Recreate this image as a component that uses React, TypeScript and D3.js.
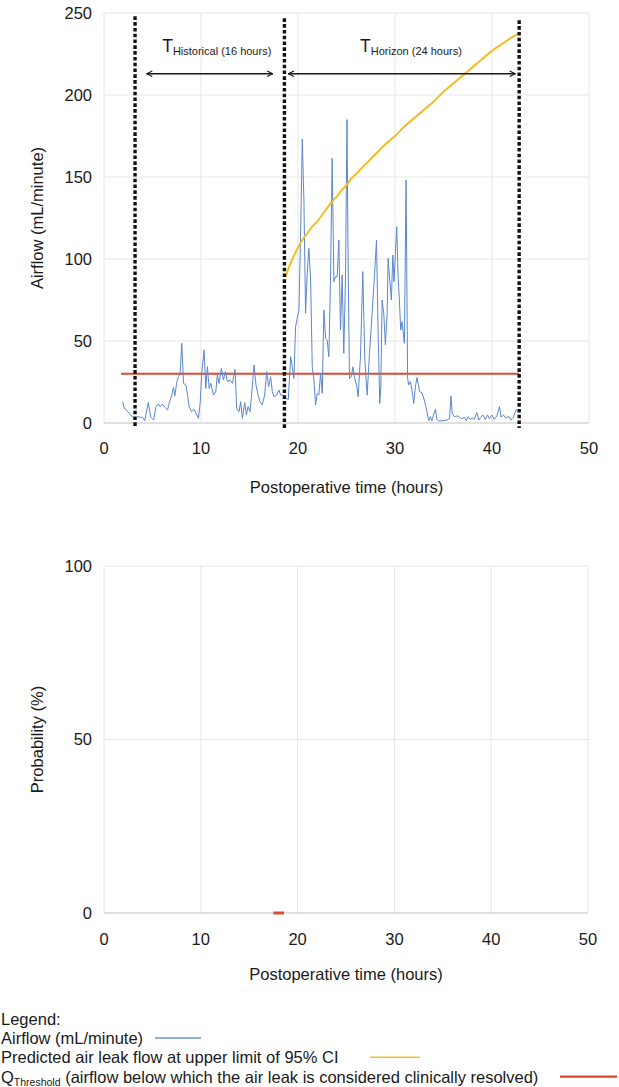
import React from "react";
import * as d3 from "d3";

// ---------- data ----------
const airflowHours = [
  1.92, 2.09, 2.26, 2.6, 2.95, 3.2, 3.46, 3.74, 3.98, 4.2, 4.56, 4.83, 5.11, 5.35, 5.59, 5.8, 6.04, 6.27, 6.55, 6.72,
  6.96, 7.17, 7.3, 7.51, 7.68, 7.85, 8.02, 8.2, 8.44, 8.61, 8.78, 9.02, 9.29, 9.57, 9.74, 9.91, 10.08, 10.32, 10.49, 10.66,
  10.84, 11.01, 11.28, 11.52, 11.69, 11.86, 12.1, 12.31, 12.52, 12.72, 13.0, 13.24, 13.51, 13.68, 13.92, 14.09, 14.27, 14.51, 14.68, 14.85,
  15.06, 15.3, 15.47, 15.67, 15.88, 16.08, 16.32, 16.56, 16.77, 16.97, 17.18, 17.35, 17.52, 17.8, 18.04, 18.21, 18.48, 18.72, 19.0, 19.24,
  19.41, 19.58, 19.75, 19.92, 20.1, 20.27, 20.44, 20.61, 20.78, 20.95, 21.12, 21.3, 21.47, 21.64, 21.81, 21.98, 22.15, 22.33, 22.5, 22.67,
  22.84, 23.01, 23.18, 23.35, 23.52, 23.7, 23.87, 24.04, 24.21, 24.38, 24.55, 24.72, 24.9, 25.05, 25.17, 25.31, 25.51, 25.65, 25.85, 26.06,
  26.2, 26.44, 26.68, 26.89, 27.13, 27.37, 27.64, 27.88, 28.09, 28.26, 28.43, 28.54, 28.67, 28.84, 29.01, 29.19, 29.29, 29.46, 29.63, 29.77,
  29.9, 30.04, 30.18, 30.32, 30.45, 30.59, 30.73, 30.83, 30.97, 31.14, 31.3, 31.41, 31.58, 31.76, 31.93, 32.1, 32.27, 32.54, 32.78, 33.02,
  33.3, 33.47, 33.64, 33.81, 33.98, 34.16, 34.33, 34.5, 34.84, 35.36, 35.63, 35.77, 35.9, 36.11, 36.39, 36.66, 36.9, 37.14, 37.35, 37.55,
  37.76, 37.96, 38.17, 38.44, 38.65, 38.85, 39.06, 39.3, 39.54, 39.74, 39.98, 40.22, 40.5, 40.77, 40.94, 41.18, 41.45, 41.69, 41.93, 42.2,
  42.48, 42.62,
];
const airflowValues = [
  13, 8.9, 8.3, 5.9, 3.5, 2.2, 3.9, 3.5, 3.5, 1.4, 12.4, 3.5, 1.8, 9.6, 11.6, 10, 11.6, 9.6, 7.9, 12,
  16.5, 21.7, 16.5, 25.2, 28.3, 30.3, 48.6, 24.2, 23.2, 17, 10, 6.9, 8.3, 4.9, 2.8, 12, 30.3, 44.5, 21.1, 34.3,
  21.1, 24.2, 17, 19.1, 29.3, 24.2, 33.3, 26.2, 31.3, 25.2, 26.2, 24.2, 32.7, 8.9, 6.9, 13, 2.8, 12.4, 4.9, 10,
  6.9, 23.2, 35.4, 23.2, 17, 13, 11, 17, 31.3, 22.2, 28.3, 19.1, 16.1, 17, 20.1, 17, 17, 15, 14.4, 40.4,
  34.3, 27.2, 58.7, 63.8, 68.9, 115.7, 173, 136, 66.9, 91.3, 106.5, 87.2, 34.3, 26.2, 11, 18.1, 17.1, 30.3, 18.1, 68.9,
  51.6, 50.6, 40.4, 87.2, 161.4, 86.2, 89.2, 89.2, 111.6, 56.7, 90.2, 42.5, 89.2, 185, 95.3, 27.2, 28.3, 34.3, 27.2, 22.2,
  16, 40.4, 92.3, 38.4, 17, 42.5, 66.9, 89.2, 111.6, 54.7, 12, 22.2, 75, 66.9, 47.6, 66.9, 100.4, 87.2, 75, 102.4,
  86.2, 103.5, 119.7, 89.2, 75, 56.7, 61.8, 55.7, 48.6, 148.2, 27.2, 23.2, 25.2, 20.1, 12, 22, 27.8, 19.1, 18.5, 14,
  6.9, 1.4, 3.9, 1.4, 4.9, 8.3, 2.2, 1.2, 1.4, 1.8, 2.8, 16.5, 5.9, 3.9, 4.3, 3.5, 2.6, 3.5, 1.4, 3.9,
  2.2, 3, 2.2, 6.3, 1.8, 3.5, 4.9, 2.2, 4.9, 2.6, 4.9, 2.2, 4.3, 10, 3.5, 4.9, 2.8, 4.3, 1.8, 3.5,
  7.9, 7.9,
];

const predictedHours = [18.72, 19, 19.5, 20, 20.5, 21, 21.5, 22, 22.5, 23, 23.5, 24, 24.5, 25, 25.5, 26, 26.5, 27, 27.5, 28, 29, 30, 31, 32, 33, 34, 35, 36, 37, 38, 39, 40, 41, 42, 42.7];
const predictedValues = [89, 94, 101, 107, 112, 116, 120, 123, 127, 131, 135, 138, 142, 145, 149, 152, 155, 158, 161, 164, 170, 175, 181, 186, 191, 196, 202, 207, 212, 217, 222, 227, 231, 235, 237.5];

const thresholdHours = [1.75, 42.8];
const thresholdValues = [30, 30];

const probabilityHours = [17.5, 18.6];
const probabilityValues = [0, 0];

const windowBoundaries = [3.2, 18.6, 42.8];

const xTicks = [0, 10, 20, 30, 40, 50];
const yTicksAirflow = [0, 50, 100, 150, 200, 250];
const yTicksProbability = [0, 50, 100];

const annotations = [
  { label: "T", sub: "Historical (16 hours)", textX: 6.0, from: 4.4, to: 17.4 },
  { label: "T", sub: "Horizon (24 hours)", textX: 26.4, from: 19.0, to: 42.4 },
];

const legendItems = [
  { main: "Airflow (mL/minute)", sub: "", rest: "", color: "#6E94D1", x1: 155, x2: 201 },
  { main: "Predicted air leak flow at upper limit of 95% CI", sub: "", rest: "", color: "#F1C232", x1: 370, x2: 420 },
  { main: "Q", sub: "Threshold", rest: " (airflow below which the air leak is considered clinically resolved)", color: "#E0442E", x1: 560, x2: 617 },
];

// ---------- styles ----------
const FONT = "'Liberation Sans', Arial, Helvetica, sans-serif";
const TEXT = "#1a1a1a";
const GRID = "#e6e6e6";
const AXIS = "#d6d6d6";
const BLUE = "#5B87CF";
const YELLOW = "#F2BE22";
const RED = "#DA4A35";
const FS = 16.5;

const W = 619;
const H = 1087;

const top = { left: 104, right: 589, top: 13, bottom: 423 };
const bot = { left: 104, right: 588, top: 566, bottom: 913 };

export default function App() {
  const x1 = d3.scaleLinear().domain([0, 50]).range([top.left, top.right]);
  const y1 = d3.scaleLinear().domain([0, 250]).range([top.bottom, top.top]);
  const x2 = d3.scaleLinear().domain([0, 50]).range([bot.left, bot.right]);
  const y2 = d3.scaleLinear().domain([0, 100]).range([bot.bottom, bot.top]);

  const airflowPts: [number, number][] = airflowHours.map((h, i) => [h, airflowValues[i]]);
  const predPts: [number, number][] = predictedHours.map((h, i) => [h, predictedValues[i]]);
  const thrPts: [number, number][] = thresholdHours.map((h, i) => [h, thresholdValues[i]]);
  const probPts: [number, number][] = probabilityHours.map((h, i) => [h, probabilityValues[i]]);

  const line1 = d3.line<[number, number]>().x((d) => x1(d[0])).y((d) => y1(d[1]));
  const predLine = d3.line<[number, number]>().x((d) => x1(d[0])).y((d) => y1(d[1])).curve(d3.curveMonotoneX);
  const line2 = d3.line<[number, number]>().x((d) => x2(d[0])).y((d) => y2(d[1]));

  const arrowY = y1(213);

  return (
    <svg width={W} height={H} style={{ position: "absolute", left: 0, top: 0, fontFamily: FONT }}>
      <defs>
        <marker id="ah" viewBox="0 0 10 10" refX="9" refY="5" markerWidth="7" markerHeight="7" orient="auto-start-reverse" markerUnits="userSpaceOnUse">
          <path d="M1,1 L9,5 L1,9" fill="none" stroke="#1a1a1a" strokeWidth="1.6" />
        </marker>
      </defs>
      <rect width={W} height={H} fill="#fff" />

      {/* ---------- top chart ---------- */}
      {xTicks.map((t) => (
        <line key={"tv" + t} x1={x1(t)} x2={x1(t)} y1={top.top} y2={top.bottom} stroke={GRID} strokeWidth={1} />
      ))}
      {yTicksAirflow.map((t) => (
        <line key={"th" + t} x1={top.left} x2={top.right} y1={y1(t)} y2={y1(t)} stroke={t === 0 ? AXIS : GRID} strokeWidth={t === 0 ? 1.5 : 1} />
      ))}
      {yTicksAirflow.map((t) => (
        <text key={"ty" + t} x={top.left - 12} y={y1(t)} dy="0.35em" textAnchor="end" fontSize={FS} fill={TEXT}>{t}</text>
      ))}
      {xTicks.map((t) => (
        <text key={"tx" + t} x={x1(t)} y={top.bottom + 25} dy="0.35em" textAnchor="middle" fontSize={FS} fill={TEXT}>{t}</text>
      ))}
      <text x={(top.left + top.right) / 2} y={top.bottom + 70} textAnchor="middle" fontSize={FS} fill={TEXT}>Postoperative time (hours)</text>
      <text transform={`translate(43, ${(top.top + top.bottom) / 2}) rotate(-90)`} textAnchor="middle" fontSize={FS} fill={TEXT}>Airflow (mL/minute)</text>

      <path d={line1(thrPts) || ""} fill="none" stroke={RED} strokeWidth={2} />
      <path d={line1(airflowPts) || ""} fill="none" stroke={BLUE} strokeWidth={1} strokeLinejoin="round" />
      <path d={predLine(predPts) || ""} fill="none" stroke={YELLOW} strokeWidth={2} />

      {windowBoundaries.map((b, i) => (
        <line key={"wb" + i} x1={x1(b)} x2={x1(b)} y1={y1(248) + i * 2} y2={top.bottom + 5} stroke="#111" strokeWidth={3.4} strokeDasharray="3.6 2.2" />
      ))}

      {annotations.map((a, i) => (
        <g key={"an" + i}>
          <text x={x1(a.textX)} y={y1(226)} fontSize={17.5} fill={TEXT}>
            {a.label}
            <tspan fontSize={11} dy={3}>{a.sub}</tspan>
          </text>
          <line x1={x1(a.from)} x2={x1(a.to)} y1={arrowY} y2={arrowY} stroke="#1a1a1a" strokeWidth={1.6} markerStart="url(#ah)" markerEnd="url(#ah)" />
        </g>
      ))}

      {/* ---------- bottom chart ---------- */}
      {xTicks.map((t) => (
        <line key={"bv" + t} x1={x2(t)} x2={x2(t)} y1={bot.top} y2={bot.bottom} stroke={GRID} strokeWidth={1} />
      ))}
      {yTicksProbability.map((t) => (
        <line key={"bh" + t} x1={bot.left} x2={bot.right} y1={y2(t)} y2={y2(t)} stroke={t === 0 ? AXIS : GRID} strokeWidth={t === 0 ? 1.5 : 1} />
      ))}
      {yTicksProbability.map((t) => (
        <text key={"by" + t} x={bot.left - 12} y={y2(t)} dy="0.35em" textAnchor="end" fontSize={FS} fill={TEXT}>{t}</text>
      ))}
      {xTicks.map((t) => (
        <text key={"bx" + t} x={x2(t)} y={bot.bottom + 26} dy="0.35em" textAnchor="middle" fontSize={FS} fill={TEXT}>{t}</text>
      ))}
      <text x={(bot.left + bot.right) / 2} y={bot.bottom + 67} textAnchor="middle" fontSize={FS} fill={TEXT}>Postoperative time (hours)</text>
      <text transform={`translate(43, ${(bot.top + bot.bottom) / 2}) rotate(-90)`} textAnchor="middle" fontSize={FS} fill={TEXT}>Probability (%)</text>
      <path d={line2(probPts) || ""} fill="none" stroke={RED} strokeWidth={3} />

      {/* ---------- legend ---------- */}
      <text x={1} y={1025} fontSize={FS} fill={TEXT}>Legend:</text>
      {legendItems.map((l, i) => (
        <g key={"lg" + i}>
          <text x={1} y={1044 + i * 19.3} fontSize={FS} fill={TEXT}>
            {l.main}
            {l.sub ? <tspan fontSize={10.5} dy={3}>{l.sub}</tspan> : null}
            {l.rest ? <tspan fontSize={FS} dy={-3}>{l.rest}</tspan> : null}
          </text>
          <line x1={l.x1} x2={l.x2} y1={1038 + i * 19.3} y2={1038 + i * 19.3} stroke={l.color} strokeWidth={i === 2 ? 2.2 : 1.6} />
        </g>
      ))}
    </svg>
  );
}
